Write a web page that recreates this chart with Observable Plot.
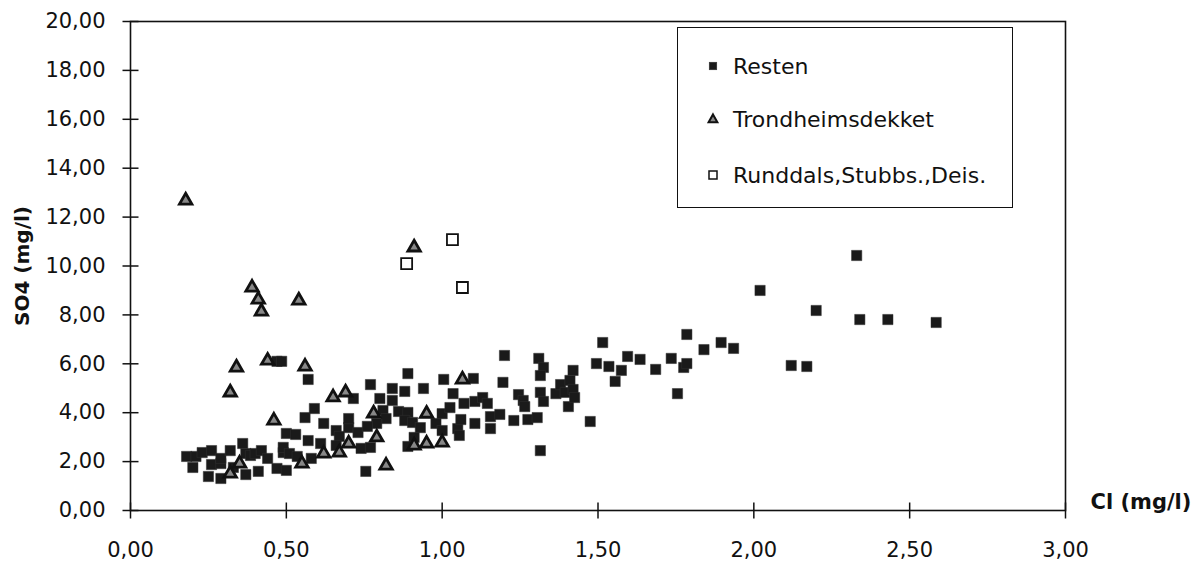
<!DOCTYPE html>
<html>
<head>
<meta charset="utf-8">
<script src="https://cdn.jsdelivr.net/npm/d3@7"></script>
<script src="https://cdn.jsdelivr.net/npm/@observablehq/plot@0.6"></script>
<style>
  html, body { margin: 0; padding: 0; background: #fff; }
  #wrap { position: relative; width: 1199px; height: 563px; font-family: "DejaVu Sans", sans-serif; }
  #legend { position: absolute; left: 677px; top: 27px; width: 334px; height: 179px; border: 1.5px solid #111; background: #fff; }
  .row { position: absolute; left: 0; height: 30px; display: flex; align-items: center; font-size: 22px; color: #111; }
  .row svg { position: absolute; left: 27px; }
  .row span { position: absolute; left: 55px; white-space: nowrap; }
</style>
</head>
<body>
<div id="wrap"></div>
<script>
// Series names
const seriesNames = ["Resten", "Trondheimsdekket", "Runddals,Stubbs.,Deis."];

// Resten: [Cl, SO4]
const resten = [
  [0.18,2.21],[0.20,1.76],[0.21,2.21],[0.23,2.37],[0.26,2.45],[0.26,1.88],[0.25,1.39],[0.29,1.31],
  [0.29,1.92],[0.29,2.13],[0.32,2.45],[0.33,1.76],[0.36,2.74],[0.37,2.33],[0.37,1.47],[0.385,2.25],
  [0.41,1.60],[0.40,2.33],[0.42,2.45],[0.44,2.13],[0.47,1.72],[0.50,1.64],[0.49,2.37],[0.49,2.58],
  [0.51,2.33],[0.535,2.21],[0.50,3.15],[0.53,3.11],[0.57,2.86],[0.61,2.74],[0.58,2.13],[0.56,3.80],
  [0.59,4.17],[0.62,3.56],[0.66,3.27],[0.70,3.39],[0.67,3.03],[0.66,2.66],[0.73,3.19],[0.70,3.76],
  [0.715,4.58],[0.77,5.15],[0.84,4.99],[0.80,4.58],[0.84,4.50],[0.86,4.05],[0.81,4.09],[0.82,3.76],
  [0.79,3.56],[0.76,3.44],[0.74,2.54],[0.77,2.58],[0.755,1.60],[0.57,5.36],[0.47,6.10],[0.485,6.10],
  [0.94,4.99],[0.88,4.87],[0.89,5.60],[0.89,4.01],[0.88,3.68],[0.905,3.60],[0.93,3.39],[0.98,3.56],
  [1.00,3.27],[1.05,3.35],[1.055,3.07],[0.91,2.99],[0.89,2.62],[1.00,3.96],[1.005,5.36],[1.025,4.21],
  [1.035,4.78],[1.06,3.72],[1.07,4.38],[1.10,5.40],[1.105,4.46],[1.13,4.62],[1.145,4.38],[1.105,3.56],
  [1.155,3.84],[1.155,3.35],[1.185,3.93],[1.195,5.24],[1.20,6.34],[1.23,3.68],[1.245,4.74],[1.26,4.50],
  [1.265,4.25],[1.275,3.72],[1.305,3.80],[1.31,6.22],[1.325,5.85],[1.315,5.52],[1.315,4.83],[1.325,4.46],
  [1.315,2.45],[1.365,4.78],[1.38,5.15],[1.395,4.83],[1.405,4.25],[1.41,5.32],[1.42,5.73],[1.42,4.95],
  [1.425,4.62],[1.475,3.64],[1.495,6.01],[1.515,6.87],[1.535,5.89],[1.555,5.28],[1.575,5.73],[1.595,6.30],
  [1.635,6.18],[1.685,5.77],[1.735,6.22],[1.755,4.78],[1.775,5.85],[1.785,6.01],[1.785,7.20],[1.84,6.58],
  [1.895,6.87],[1.935,6.63],[2.02,9.00],[2.12,5.93],[2.17,5.89],[2.20,8.18],[2.33,10.43],[2.34,7.81],
  [2.43,7.81],[2.585,7.69]
];

// Trondheimsdekket: [Cl, SO4]
const trondheim = [
  [0.177,12.68],[0.39,9.12],[0.41,8.63],[0.42,8.14],[0.54,8.59],[0.91,10.76],[0.32,4.83],[0.34,5.85],
  [0.44,6.13],[0.56,5.89],[0.46,3.68],[0.65,4.63],[0.69,4.83],[0.78,3.97],[0.79,2.99],[0.82,1.84],
  [0.55,1.92],[0.70,2.74],[0.67,2.37],[0.62,2.33],[0.35,1.92],[0.32,1.51],[1.065,5.36],[0.95,3.96],
  [0.95,2.74],[1.00,2.78],[0.91,2.66]
];

// Runddals,Stubbs.,Deis.: [Cl, SO4]
const runddals = [[0.886,10.10],[1.033,11.08],[1.065,9.12]];

// Axis ticks
const xTicks = [0, 0.5, 1.0, 1.5, 2.0, 2.5, 3.0];
const yTicks = [0, 2, 4, 6, 8, 10, 12, 14, 16, 18, 20];
const fmt = v => d3.format(".2f")(v).replace(".", ",");

// Tick marks that cross the axis line (custom dot symbols)
const hLine = { draw(ctx, size) { const r = Math.sqrt(size / Math.PI); ctx.moveTo(-r, 0); ctx.lineTo(r, 0); } };
const vLine = { draw(ctx, size) { const r = Math.sqrt(size / Math.PI); ctx.moveTo(0, -r); ctx.lineTo(0, r); } };

const chart = Plot.plot({
  width: 1199,
  height: 563,
  marginLeft: 130,
  marginRight: 134,
  marginTop: 21,
  marginBottom: 53,
  style: { fontFamily: "DejaVu Sans, sans-serif", fontSize: "21px", color: "#111", background: "#fff" },
  x: { domain: [0, 3] },
  y: { domain: [0, 20] },
  marks: [
    Plot.frame({ stroke: "#111", strokeWidth: 1.6 }),
    Plot.axisY({ ticks: yTicks, tickFormat: fmt, tickSize: 0, tickPadding: 25, label: null, fontSize: 21 }),
    Plot.axisX({ ticks: xTicks, tickFormat: fmt, tickSize: 0, tickPadding: 32, label: null, fontSize: 21 }),
    Plot.dot(yTicks, { x: 0, y: d => d, symbol: hLine, r: 8, fill: "none", stroke: "#111", strokeWidth: 1.5 }),
    Plot.dot(xTicks, { x: d => d, y: 0, symbol: vLine, r: 8, fill: "none", stroke: "#111", strokeWidth: 1.5 }),
    Plot.dot(resten, { x: d => d[0], y: d => d[1], symbol: "square", r: 5.8, fill: "#1a1a1a", stroke: "#333", strokeWidth: 0.5 }),
    Plot.dot(trondheim, { x: d => d[0], y: d => d[1], symbol: "triangle", r: 4.6, fill: "#888", stroke: "#111", strokeWidth: 2.8 }),
    Plot.dot(runddals, { x: d => d[0], y: d => d[1], symbol: "square", r: 6.2, fill: "#fff", stroke: "#111", strokeWidth: 1.8 }),
    Plot.text(["SO4 (mg/l)"], { frameAnchor: "left", dx: -108, rotate: -90, textAnchor: "middle", lineAnchor: "middle", fontWeight: "bold", fontSize: 20, fill: "#111" }),
    Plot.text(["Cl (mg/l)"], { frameAnchor: "bottom-right", dx: 25, dy: -8, textAnchor: "start", lineAnchor: "middle", fontWeight: "bold", fontSize: 21, fill: "#111" })
  ]
});

const wrap = document.getElementById("wrap");
wrap.appendChild(chart);

// Legend overlay inside the plot area
const legend = document.createElement("div");
legend.id = "legend";
wrap.appendChild(legend);
const rowTops = [23, 76, 132];
const symbols = [
  `<svg width="16" height="16" viewBox="-8 -8 16 16"><rect x="-3.8" y="-3.8" width="7.6" height="7.6" fill="#1a1a1a" stroke="#333" stroke-width="0.5"/></svg>`,
  `<svg width="16" height="16" viewBox="-8 -8 16 16"><path d="M0,-4.6L4.4,3.2L-4.4,3.2Z" fill="#888" stroke="#111" stroke-width="2"/></svg>`,
  `<svg width="16" height="16" viewBox="-8 -8 16 16"><rect x="-4" y="-4" width="8" height="8" fill="#fff" stroke="#111" stroke-width="1.5"/></svg>`
];
seriesNames.forEach((name, i) => {
  const row = document.createElement("div");
  row.className = "row";
  row.style.top = rowTops[i] + "px";
  row.innerHTML = symbols[i] + `<span>${name}</span>`;
  legend.appendChild(row);
});
</script>
</body>
</html>
